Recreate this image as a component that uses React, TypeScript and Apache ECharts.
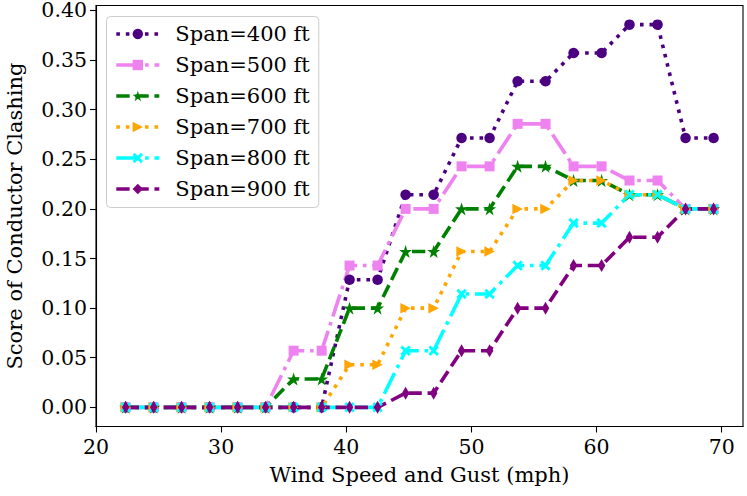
import React, { useEffect, useRef } from "react";
import * as echarts from "echarts";

const windSpeed = [22.37, 24.61, 26.84, 29.08, 31.32, 33.55, 35.79, 38.03, 40.26, 42.5, 44.74, 46.98, 49.21, 51.45, 53.69, 55.92, 58.16, 60.4, 62.63, 64.87, 67.11, 69.35];

const span400 = [0, 0, 0, 0, 0, 0, 0, 0, 0.1286, 0.1286, 0.2143, 0.2143, 0.2714, 0.2714, 0.3286, 0.3286, 0.3571, 0.3571, 0.3857, 0.3857, 0.2714, 0.2714];
const span500 = [0, 0, 0, 0, 0, 0, 0.0571, 0.0571, 0.1429, 0.1429, 0.2, 0.2, 0.2429, 0.2429, 0.2857, 0.2857, 0.2429, 0.2429, 0.2286, 0.2286, 0.2, 0.2];
const span600 = [0, 0, 0, 0, 0, 0, 0.0286, 0.0286, 0.1, 0.1, 0.1571, 0.1571, 0.2, 0.2, 0.2429, 0.2429, 0.2286, 0.2286, 0.2143, 0.2143, 0.2, 0.2];
const span700 = [0, 0, 0, 0, 0, 0, 0, 0, 0.0429, 0.0429, 0.1, 0.1, 0.1571, 0.1571, 0.2, 0.2, 0.2286, 0.2286, 0.2143, 0.2143, 0.2, 0.2];
const span800 = [0, 0, 0, 0, 0, 0, 0, 0, 0, 0, 0.0571, 0.0571, 0.1143, 0.1143, 0.1429, 0.1429, 0.1857, 0.1857, 0.2143, 0.2143, 0.2, 0.2];
const span900 = [0, 0, 0, 0, 0, 0, 0, 0, 0, 0, 0.0143, 0.0143, 0.0571, 0.0571, 0.1, 0.1, 0.1429, 0.1429, 0.1714, 0.1714, 0.2, 0.2];

const seriesNames = ["Span=400 ft", "Span=500 ft", "Span=600 ft", "Span=700 ft", "Span=800 ft", "Span=900 ft"];
const xTicks = [20, 30, 40, 50, 60, 70];
const yTicks = [0, 0.05, 0.1, 0.15, 0.2, 0.25, 0.3, 0.35, 0.4];

const FONT = "DejaVu Serif";
const LW = 3.6;
const DOTTED = [LW, 1.65 * LW];
const DASHED = [3.7 * LW, 1.6 * LW];
const DASHDOT = [6.4 * LW, 1.6 * LW, LW, 1.6 * LW];

const STAR = "path://M0,-1L0.2245,-0.309L0.951,-0.309L0.363,0.118L0.588,0.809L0,0.382L-0.588,0.809L-0.363,0.118L-0.951,-0.309L-0.2245,-0.309Z";
const XMARK = "path://M-1,-0.6L-0.6,-1L0,-0.4L0.6,-1L1,-0.6L0.4,0L1,0.6L0.6,1L0,0.4L-0.6,1L-1,0.6L-0.4,0Z";
const TRI_R = "path://M0,0L1,0.5L0,1Z";

const styles = [
  { color: "#4B0082", dash: DOTTED, symbol: "circle", size: 10.5 },
  { color: "#EE82EE", dash: DASHDOT, symbol: "rect", size: 10 },
  { color: "#008000", dash: DASHED, symbol: STAR, size: 13 },
  { color: "#FFA500", dash: DOTTED, symbol: TRI_R, size: 10.5 },
  { color: "#00FFFF", dash: DASHDOT, symbol: XMARK, size: 10.5 },
  { color: "#800080", dash: DASHED, symbol: "diamond", size: [7.5, 13] },
];

export default function App() {
  const ref = useRef<HTMLDivElement>(null);
  useEffect(() => {
    if (!ref.current) return;
    const chart = echarts.init(ref.current, undefined, { renderer: "svg" });
    const allValues = [span400, span500, span600, span700, span800, span900];
    const series = allValues.map((vals, i) => ({
      type: "line",
      name: seriesNames[i],
      data: windSpeed.map((x, j) => [x, vals[j]]),
      symbol: styles[i].symbol,
      symbolSize: styles[i].size,
      showAllSymbol: true,
      itemStyle: { color: styles[i].color, borderWidth: 0 },
      lineStyle: { color: styles[i].color, width: LW, type: styles[i].dash, cap: "butt" },
      emphasis: { disabled: true },
    }));
    chart.setOption({
      animation: false,
      grid: {
        left: 96,
        right: 4,
        top: 5.5,
        bottom: 69.5,
        outerBoundsMode: "none",
        containLabel: false,
        show: true,
        borderColor: "#000",
        borderWidth: 1.1,
        backgroundColor: "transparent",
      },
      legend: {
        orient: "vertical",
        left: 106.5,
        top: 16.5,
        padding: [7, 9, 8, 8],
        itemWidth: 43,
        itemHeight: 13,
        itemGap: 10,
        backgroundColor: "rgba(255,255,255,0.8)",
        borderColor: "#cccccc",
        borderWidth: 1,
        borderRadius: 4,
        lineStyle: { width: LW },
        textStyle: { fontFamily: FONT, fontSize: 21, color: "#000", lineHeight: 21, padding: [0, 0, 0, 11] },
        data: seriesNames,
      },
      xAxis: {
        type: "value",
        min: 20,
        max: 71.7,
        name: "Wind Speed and Gust (mph)",
        nameLocation: "middle",
        nameGap: 38,
        nameTextStyle: { fontFamily: FONT, fontSize: 21, color: "#000" },
        axisLine: { show: true, onZero: false, lineStyle: { color: "#000", width: 1.1 } },
        axisTick: { show: true, length: 6, lineStyle: { color: "#000", width: 1.1 }, customValues: xTicks },
        axisLabel: { fontFamily: FONT, fontSize: 20.5, color: "#000", margin: 10, customValues: xTicks },
        splitLine: { show: false },
      },
      yAxis: {
        type: "value",
        min: -0.0193,
        max: 0.405,
        name: "Score of Conductor Clashing",
        nameLocation: "middle",
        nameGap: 71,
        nameTextStyle: { fontFamily: FONT, fontSize: 21, color: "#000" },
        axisLine: { show: true, onZero: false, lineStyle: { color: "#000", width: 1.1 } },
        axisTick: { show: true, length: 6, lineStyle: { color: "#000", width: 1.1 }, customValues: yTicks },
        axisLabel: {
          fontFamily: FONT,
          fontSize: 20.5,
          lineHeight: 16,
          color: "#000",
          margin: 9,
          customValues: yTicks,
          formatter: (v: number) => v.toFixed(2),
        },
        splitLine: { show: false },
      },
      series,
    });
    return () => chart.dispose();
  }, []);
  return <div ref={ref} style={{ position: "absolute", left: 0, top: 0, width: 747, height: 496 }} />;
}
